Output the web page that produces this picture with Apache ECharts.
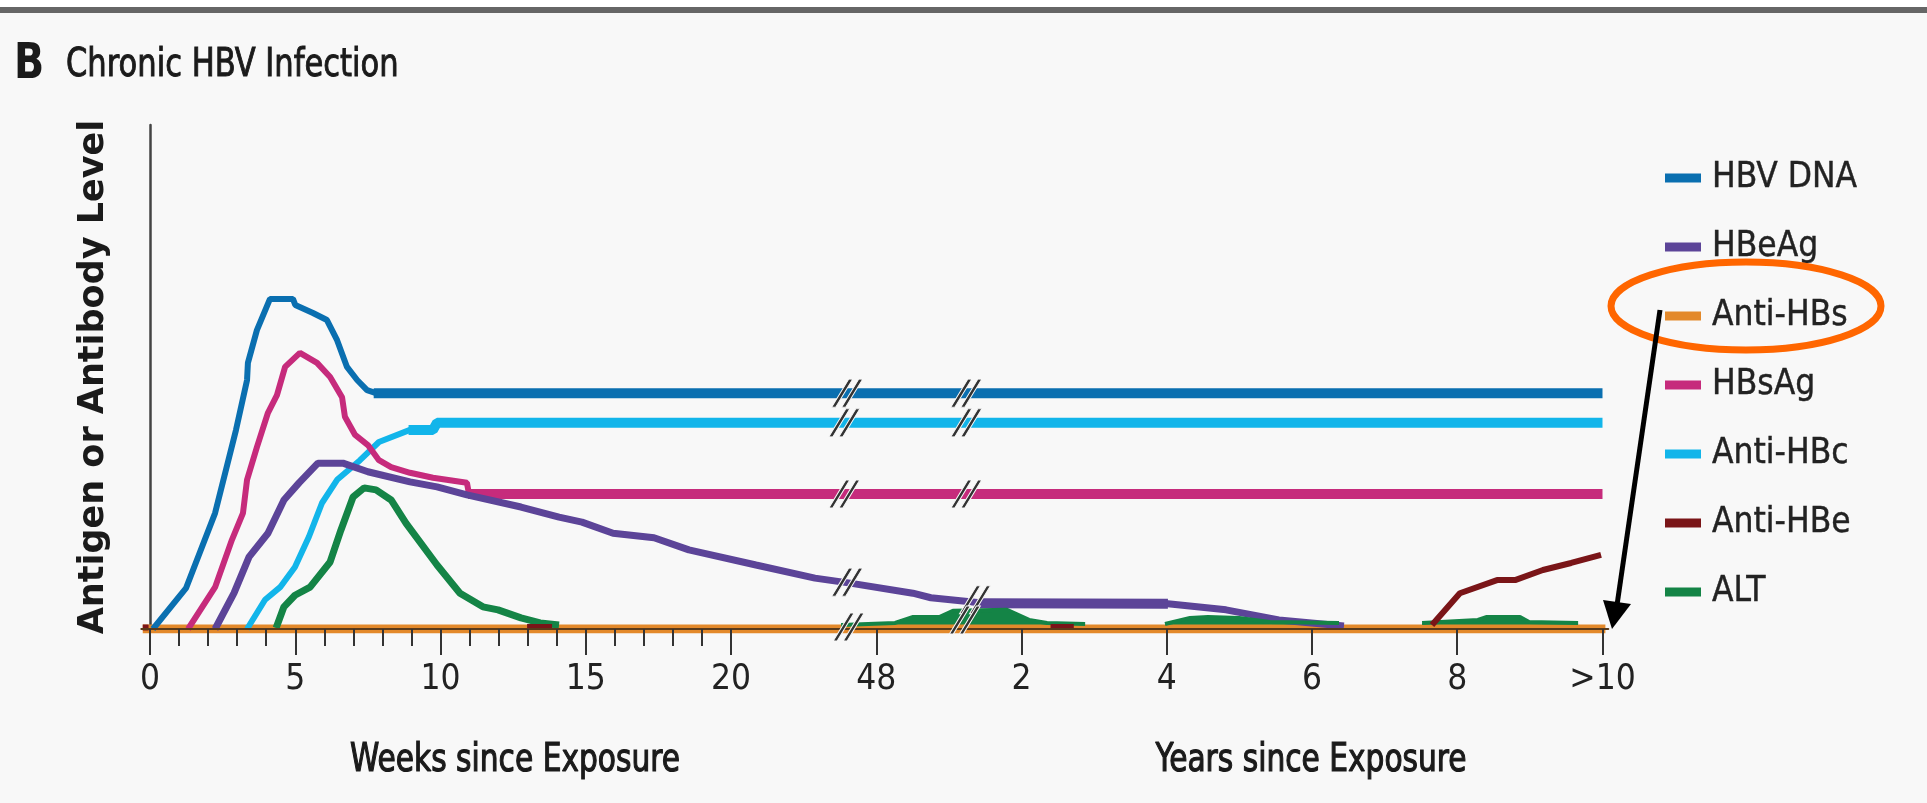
<!DOCTYPE html>
<html lang="en">
<head>
<meta charset="UTF-8">
<title>Chronic HBV Infection</title>
<style>
    body {
        margin: 0px;
        padding: 0px;
        background: #f8f8f8;
    }

    #chart {
        width: 1927px;
        height: 803px;
    }
</style>
</head>
<body>
<div id="chart"></div>
<script src="https://cdn.jsdelivr.net/npm/echarts@6.0.0/dist/echarts.min.js"></script>
<script>
    // x is a position on the broken axis: 0-20 = weeks, 25 = 48 weeks, 30..50 = 2..>10 years
    var majorTicks = [0, 5, 10, 15, 20, 25, 30, 35, 40, 45, 50];
    var tickLabels = ['0', '5', '10', '15', '20', '48', '2', '4', '6', '8', '>10'];
    var minorTicks = [1, 2, 3, 4, 6, 7, 8, 9, 11, 12, 13, 14, 16, 17, 18, 19];
    var legendNames = ['HBV DNA', 'HBeAg', 'Anti-HBs', 'HBsAg', 'Anti-HBc', 'Anti-HBe', 'ALT'];

    var hbvDnaRise = [[0.1, 0], [1.24, 8.1], [2.24, 23], [2.96, 39.5], [3.34, 49.4], [3.37, 52.8], [3.68, 59.3],
        [4.13, 65.5], [4.92, 65.5], [5.0, 64.3], [5.61, 62.7], [6.09, 61.3], [6.44, 57.3], [6.78, 52],
        [7.13, 49.4], [7.47, 47.4], [7.78, 46.8]];
    var hbvDnaFlat = [[7.7, 46.8], [50, 46.8]];

    var hbsAgRise = [[1.31, 0], [2.24, 8.3], [2.82, 17.7], [3.2, 23], [3.34, 29.6], [3.68, 36.1], [4.06, 42.9],
        [4.37, 46.4], [4.65, 52], [5.16, 54.8], [5.75, 52.8], [6.2, 50], [6.61, 46], [6.71, 42.1], [7.06, 38.5],
        [7.5, 36.5], [7.88, 33.5], [8.3, 32.1], [8.95, 31], [9.74, 30], [10.91, 29], [10.98, 26.8]];
    var hbsAgFlat = [[10.95, 26.8], [50, 26.8]];

    var hbeAg = [[2.24, 0], [2.89, 7.1], [3.41, 14.3], [4.06, 19], [4.61, 25.6], [5.13, 29], [5.78, 32.9],
        [6.64, 32.9], [7.5, 31.2], [8.95, 29.2], [9.88, 28.2], [10.91, 26.6], [12.77, 24.2], [14.08, 22.2],
        [14.87, 21.2], [15.94, 19], [17.35, 18.1], [18.55, 15.7], [20.86, 12.7], [22.89, 10.1], [24.1, 9.1],
        [26.26, 7.1], [26.88, 6.2], [28.57, 5.2], [35.04, 5.0], [37.04, 3.8], [38.86, 1.8], [41.1, 0.6]];
    var hbeAgFlat = [[28.57, 5.1], [35.04, 5.0]];

    var antiHbcRise = [[3.34, 0], [3.96, 5.8], [4.48, 8.3], [4.99, 12.3], [5.47, 18.3], [5.92, 25], [6.44, 29.6],
        [7.23, 33.5], [7.88, 37.1], [8.95, 39.5]];
    var antiHbcFlat = [[8.9, 39.5], [9.74, 39.5], [9.88, 40.9], [50, 40.9]];

    var altPeak = [[4.34, 0.2], [4.61, 4.4], [4.99, 6.7], [5.51, 8.3], [6.2, 13.3], [6.57, 19.6], [6.99, 26.2],
        [7.37, 28], [7.78, 27.6], [8.3, 25.6], [8.81, 21], [9.88, 12.7], [10.67, 7.1], [11.46, 4.4],
        [11.98, 3.8], [12.77, 2.2], [13.43, 1.2], [14.08, 0.8]];
    var altLow = [[23.79, 0.8], [25.65, 1.2], [26.27, 2.4], [27.19, 2.4], [27.64, 3.6], [29.5, 3.8], [30.26, 1.8],
        [30.88, 1.2], [32.19, 1.0], [32.2, '-'],
        [34.94, 1.0], [35.8, 2.2], [36.42, 2.4], [37.49, 2.2], [38.55, 1.4], [40.93, 1.2], [40.95, '-'],
        [43.79, 1.2], [45.71, 1.8], [46.02, 2.4], [47.16, 2.4], [47.47, 1.4], [49.16, 1.2]];

    var antiHbe = [[-0.25, 0.3], [-0.05, 0.3], [0, '-'], [12.98, 0.4], [13.84, 0.4], [13.9, '-'],
        [31.0, 0.4], [31.8, 0.4], [31.9, '-'],
        [44.13, 0.8], [45.09, 7.1], [46.37, 9.7], [46.99, 9.7], [47.95, 11.7], [48.92, 13.1], [49.95, 14.7]];

    var antiHbs = [[-0.25, 0], [50.1, 0]];

    var breakMarks = [[24.0, 46.8], [28.1, 46.8], [23.9, 40.9], [28.1, 40.9], [23.9, 26.8], [28.1, 26.8],
        [24.0, 9.3], [28.4, 5.8], [24.05, 0.4], [28.05, 1.8]];

    var colors = {
        'HBV DNA': '#0a6fb0',
        'HBeAg': '#5c4498',
        'Anti-HBs': '#e3892b',
        'HBsAg': '#c62b7c',
        'Anti-HBc': '#12b5ea',
        'Anti-HBe': '#7a1518',
        'ALT': '#148446'
    };

    var narrow = '"Liberation Sans Narrow", "DejaVu Sans Condensed", sans-serif';

    function line(name, data, width, z) {
        return {
            name: name,
            type: 'line',
            data: data,
            showSymbol: false,
            connectNulls: false,
            z: z || 2,
            color: colors[name],
            lineStyle: { color: colors[name], width: width }
        };
    }

    // free text, stretched a little in height like the condensed type of the original
    function label(text, x, y, size, weight, align, sy, thick) {
        return {
            type: 'text', x: x, y: y, scaleY: sy,
            style: {
                text: text, fontFamily: narrow, fontWeight: weight, fontSize: size,
                fill: '#1a1a1a', stroke: '#1a1a1a', lineWidth: thick || 0,
                align: align, verticalAlign: 'middle'
            }
        };
    }

    var myChart = echarts.init(document.getElementById('chart'));

    var altLowSeries = line('ALT', altLow, 4);
    altLowSeries.areaStyle = { color: colors['ALT'], opacity: 1, origin: 0 };

    var option = {
        animation: false,
        backgroundColor: '#f8f8f8',
        grid: { left: 141.3, top: 125, width: 1467, height: 504, outerBoundsMode: 'none' },
        legend: {
            data: legendNames,
            orient: 'vertical',
            left: 1660,
            top: 153,
            itemWidth: 36,
            itemHeight: 9,
            itemGap: 29,
            icon: 'rect',
            itemStyle: { borderWidth: 0 },
            textStyle: {
                fontFamily: narrow, fontSize: 35, lineHeight: 40, color: '#222',
                textBorderColor: '#222', textBorderWidth: 0.4, padding: [0, 0, 0, 6]
            }
        },
        xAxis: [
            {
                type: 'value',
                min: -0.3,
                max: 50.2,
                position: 'bottom',
                z: 3,
                splitLine: { show: false },
                axisLine: { onZero: false, lineStyle: { color: '#5a3a1a', width: 2 } },
                axisTick: { customValues: majorTicks, length: 26, lineStyle: { color: '#333', width: 2 } },
                axisLabel: {
                    customValues: majorTicks,
                    margin: 33,
                    fontFamily: narrow,
                    fontSize: 35,
                    color: '#222',
                    formatter: function (value) {
                        return tickLabels[majorTicks.indexOf(value)];
                    }
                }
            },
            {
                type: 'value',
                min: -0.3,
                max: 50.2,
                position: 'bottom',
                z: 3,
                splitLine: { show: false },
                axisLine: { show: false, onZero: false },
                axisTick: { customValues: minorTicks, length: 17, lineStyle: { color: '#333', width: 2 } },
                axisLabel: { show: false }
            }
        ],
        yAxis: {
            type: 'value',
            min: 0,
            max: 100,
            name: 'Antigen or Antibody Level',
            nameLocation: 'middle',
            nameGap: 30,
            nameTextStyle: { fontFamily: 'DejaVu Sans', fontWeight: 'bold', fontSize: 35, color: '#1a1a1a' },
            splitLine: { show: false },
            axisTick: { show: false },
            axisLabel: { show: false },
            axisLine: { show: true, onZero: true, lineStyle: { color: '#444', width: 2.5 } }
        },
        series: [
            line('Anti-HBs', antiHbs, 9),
            line('HBV DNA', hbvDnaRise, 6),
            line('HBV DNA', hbvDnaFlat, 10),
            line('Anti-HBc', antiHbcRise, 6),
            line('Anti-HBc', antiHbcFlat, 10),
            line('HBsAg', hbsAgRise, 6),
            line('HBsAg', hbsAgFlat, 10),
            line('HBeAg', hbeAg, 7),
            line('HBeAg', hbeAgFlat, 10),
            line('ALT', altPeak, 7),
            altLowSeries,
            line('Anti-HBe', antiHbe, 6),
            {
                name: 'breaks',
                type: 'scatter',
                data: breakMarks,
                z: 5,
                symbol: 'path://M17,0 L21,0 L4,26 L0,26 Z M27,0 L31,0 L14,26 L10,26 Z',
                symbolSize: [31, 28],
                itemStyle: { color: '#333333', borderColor: '#f8f8f8', borderWidth: 1, opacity: 1 }
            }
        ],
        graphic: [
            { type: 'rect', shape: { x: 0, y: 0, width: 1927, height: 7 }, style: { fill: '#ffffff' } },
            { type: 'rect', shape: { x: 0, y: 7, width: 1927, height: 6 }, style: { fill: '#666666' } },
            label('B', 14, 65, 44, 'bold', 'left', 1.12),
            label('Chronic HBV Infection', 66, 66, 34, 'normal', 'left', 1.15, 0.8),
            label('Weeks since Exposure', 515, 761, 33, 'normal', 'center', 1.2, 1),
            label('Years since Exposure', 1311, 761, 33, 'normal', 'center', 1.2, 1),
            {
                type: 'ellipse', z: 10,
                shape: { cx: 1746, cy: 306, rx: 135, ry: 44 },
                style: { fill: 'none', stroke: '#ff6600', lineWidth: 7 }
            },
            {
                type: 'line', z: 10,
                shape: { x1: 1660, y1: 310, x2: 1617, y2: 605 },
                style: { stroke: '#000000', lineWidth: 5 }
            },
            {
                type: 'polygon', z: 10,
                shape: { points: [[1603, 600], [1631, 604], [1612, 629]] },
                style: { fill: '#000000' }
            }
        ]
    };

    myChart.setOption(option);
</script>
</body>
</html>
